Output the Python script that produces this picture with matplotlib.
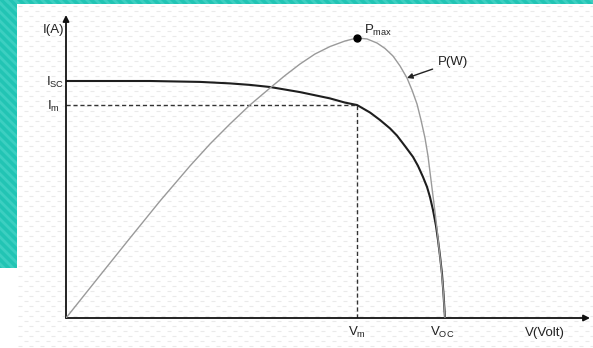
import matplotlib
matplotlib.use("Agg")
from matplotlib import pyplot as plt
from matplotlib.patches import Rectangle
import numpy as np

plt.rcParams['font.family'] = ['Liberation Sans', 'DejaVu Sans']
plt.rcParams['mathtext.fontset'] = 'custom'
plt.rcParams['mathtext.rm'] = 'Liberation Sans'
plt.rcParams['mathtext.it'] = 'Liberation Sans'

# I-V characteristic of the module (V in volts, I in amps)
v_iv = [0.0, 8.4, 13.4, 16.4, 18.4, 20.4, 23.4, 26.4, 27.9, 29.1, 30.4, 31.4,
        32.4, 33.1, 33.9, 34.7, 35.2, 35.7, 36.1, 36.4, 36.7, 37.0, 37.2,
        37.4, 37.6, 37.75, 37.9]
i_iv = [7.90, 7.90, 7.87, 7.82, 7.77, 7.70, 7.53, 7.32, 7.18, 7.10, 6.85, 6.60,
        6.32, 6.08, 5.73, 5.37, 5.07, 4.70, 4.37, 4.03, 3.60, 3.07, 2.60,
        2.07, 1.47, 0.80, 0.0]

# P-V characteristic (W)
v_pv = [0.0, 3.4, 6.4, 9.4, 12.4, 14.4, 16.4, 18.4, 20.4, 21.9, 23.4, 24.9,
        26.4, 27.9, 29.1, 30.1, 31.1, 31.9, 32.7, 33.4, 34.1, 34.6, 35.1,
        35.5, 35.9, 36.2, 36.5, 36.7, 36.9, 37.1, 37.3, 37.5, 37.7, 37.9]
p_pv = [0.0, 31.4, 59.0, 86.3, 112.2, 128.4, 143.2, 157.2, 169.7, 178.9, 187.4, 194.8,
        200.3, 204.4, 206.6, 205.9, 202.9, 198.9, 193.3, 186.0, 177.1, 168.2, 157.9,
        146.1, 132.8, 119.5, 101.8, 90.0, 78.2, 65.7, 51.7, 38.4, 22.1, 0.0]

isc = 7.90
im = 7.10
vm = 29.1
voc = 37.9
pmax = 206.6

W, H = 593, 348
fig = plt.figure(figsize=(W / 100, H / 100), dpi=100)
fig.patch.set_facecolor('white')

# slide background: teal frame with stripes and a faint dotted texture
bg = fig.add_axes([0, 0, 1, 1])
bg.set_xlim(0, W)
bg.set_ylim(H, 0)
bg.axis('off')
teal = '#22c4b4'
left_band = Rectangle((0, 0), 17, 268, color=teal, lw=0)
top_band = Rectangle((0, 0), W, 3.5, color=teal, lw=0)
bg.add_patch(left_band)
bg.add_patch(top_band)
for x0 in np.arange(-300, W, 9):
    for band in (left_band, top_band):
        ln, = bg.plot([x0, x0 + 300], [0, 300], color='#3ccfc1', lw=2)
        ln.set_clip_path(band)

gx, gy = np.meshgrid(np.arange(20, W, 11.0), np.arange(6, H, 5.0))
gx[1::2] += 5.5
bg.scatter(gx.ravel(), gy.ravel(), marker='_', s=10, lw=0.8, color='#eaeaea', zorder=0)

# main axes, 10 px per volt and 30 px per amp
x0_px, y0_px, top_px, right_px = 66, 318, 15, 590
ax = fig.add_axes([x0_px / W, (H - y0_px) / H, (right_px - x0_px) / W, (y0_px - top_px) / H])
ax.patch.set_alpha(0)
ax.set_xlim(0, (right_px - x0_px) / 10)
ax.set_ylim(0, (y0_px - top_px) / 30)
for s in ax.spines.values():
    s.set_visible(False)
ax.set_xticks([])
ax.set_yticks([])

ax2 = ax.twinx()
ax2.set_ylim(0, pmax * (y0_px - top_px) / (y0_px - 38))
ax2.axis('off')

arrow_kw = dict(arrowstyle='-|>', lw=1.3, color='#111111', mutation_scale=9,
                shrinkA=0, shrinkB=0)
ax.annotate('', xy=(0, 1), xytext=(0, 0), xycoords='axes fraction',
            arrowprops=arrow_kw, annotation_clip=False)
ax.annotate('', xy=(1, 0), xytext=(0, 0), xycoords='axes fraction',
            arrowprops=arrow_kw, annotation_clip=False)

ax.plot(v_iv, i_iv, color='#1e1e1e', lw=1.5, solid_capstyle='round', solid_joinstyle='round')
ax2.plot(v_pv, p_pv, color='#9a9a9a', lw=1.0, solid_joinstyle='round')
ax.plot([0, vm], [im, im], color='#333333', lw=1.0, dashes=(3, 2))
ax.plot([vm, vm], [0, im], color='#333333', lw=1.0, dashes=(3, 2))
ax2.plot([vm], [pmax], 'o', color='black', ms=5)

fs = 9.5
txt = dict(fontsize=fs, color='#222222', textcoords='offset pixels',
           annotation_clip=False)
ax.annotate('I(A)', xy=(0, 1), xycoords='axes fraction', xytext=(-2, -18),
            ha='right', va='baseline', **txt)
ax.annotate(r'$\mathregular{I_{SC}}$', xy=(0, isc), xytext=(-2, -5),
            ha='right', va='baseline', **txt)
ax.annotate(r'$\mathregular{I_{m}}$', xy=(0, im), xytext=(-6, -5),
            ha='right', va='baseline', **txt)
ax.annotate(r'$\mathregular{V_{m}}$', xy=(vm, 0), xytext=(0, -18),
            ha='center', va='baseline', **txt)
ax.annotate(r'$\mathregular{V_{OC}}$', xy=(voc, 0), xytext=(-3, -18),
            ha='center', va='baseline', **txt)
ax.annotate('V(Volt)', xy=(1, 0), xycoords='axes fraction', xytext=(-45, -18),
            ha='center', va='baseline', **txt)
ax2.annotate(r'$\mathregular{P_{max}}$', xy=(vm, pmax), xytext=(7, 4),
             ha='left', va='baseline', **txt)
ax2.annotate('P(W)', xy=(34.1, 177.1), xytext=(31, 16), ha='left', va='center',
             arrowprops=dict(arrowstyle='-|>', lw=1.0, color='#222222',
                             mutation_scale=8, shrinkA=2, shrinkB=0),
             **txt)

fig.savefig('out.png', dpi=100)
